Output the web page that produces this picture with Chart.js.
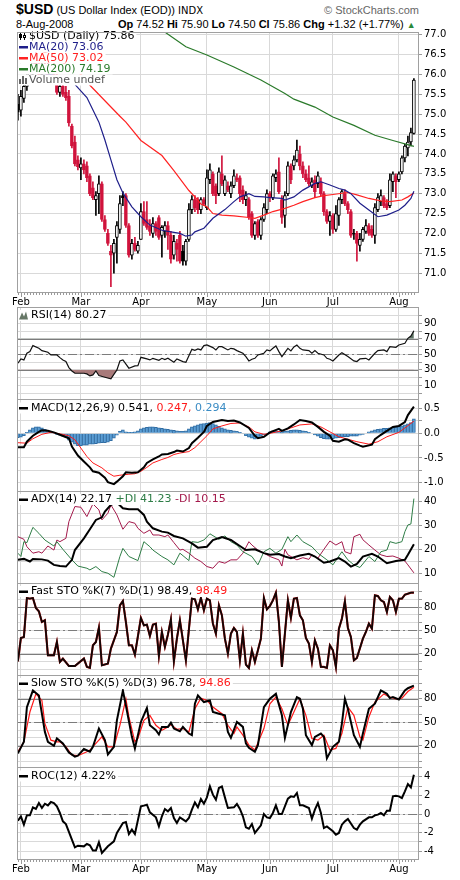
<!DOCTYPE html>
<html>
<head>
<meta charset="utf-8">
<script src="https://cdn.jsdelivr.net/npm/chart.js@4.4.0/dist/chart.umd.min.js"></script>
<style>
  body { margin: 0; background: #fff; }
  #wrap { position: relative; width: 460px; height: 880px; overflow: hidden; }
  #wrap canvas { position: absolute; left: 0; }
  .hd { position: absolute; white-space: nowrap; color: #000; }
</style>
</head>
<body>
<div id="wrap">
  <div class="hd" style="left:16px;top:1px;font:11px 'Liberation Sans',Arial"><b style="font-size:14px">$USD</b> (US Dollar Index (EOD)) <span style="font-family:'DejaVu Sans';font-size:10px">INDX</span></div>
  <div class="hd" style="right:41px;top:4px;font:11px 'Liberation Sans',Arial;color:#666">© StockCharts.com</div>
  <div class="hd" style="left:16px;top:18px;font:11px 'Liberation Sans',Arial">8-Aug-2008</div>
  <div class="hd" style="left:118px;top:18px;font:11px 'Liberation Sans',Arial"><b>Op</b> 74.52 <b>Hi</b> 75.90 <b>Lo</b> 74.50 <b>Cl</b> 75.86 <b>Chg</b> +1.32 (+1.77%) <span style="color:#2a8a3a;font-size:9px">&#9650;</span></div>
</div>
<script>
// trading days: day 0 = 1-Feb-2008, first bar is day -1 (31-Jan)
const monthLabels = ['Feb', 'Mar', 'Apr', 'May', 'Jun', 'Jul', 'Aug'];
const monthStart = [0, 20, 40, 62, 83, 104, 126];
const firstDay = -1;

// daily candles, day -1 .. 131
const dayOpen = [
  75.25, 75.10, 75.40, 75.70, 75.90, 76.10, 76.30, 76.20, 76.00, 76.25,
  76.10, 75.95, 76.10, 75.95, 75.55, 75.70, 75.55, 75.45, 74.70, 74.30,
  73.85, 73.65, 73.75, 73.70, 73.45, 73.15, 72.85, 73.00, 73.25, 72.35,
  72.00, 71.55, 71.50, 71.90, 72.10, 72.95, 72.95, 72.20, 71.45, 71.75,
  71.55, 71.85, 72.55, 72.35, 72.20, 72.00, 72.25, 72.40, 71.95, 72.05,
  72.20, 71.95, 71.45, 71.75, 71.95, 71.55, 71.30, 71.85, 72.60, 72.85,
  72.85, 72.60, 72.85, 72.65, 73.35, 73.50, 73.20, 73.00, 73.50, 73.00,
  73.20, 73.00, 73.20, 73.40, 73.40, 73.10, 72.85, 72.85, 72.50, 71.95,
  72.30, 71.95, 72.35, 72.60, 73.00, 72.90, 73.40, 73.55, 72.85, 72.45,
  73.00, 73.70, 73.70, 73.85, 74.00, 73.70, 73.50, 73.40, 73.20, 73.35,
  73.25, 73.30, 73.00, 72.55, 72.30, 72.45, 72.10, 72.45, 72.85, 73.00,
  72.75, 72.55, 72.00, 72.00, 71.70, 71.85, 72.05, 72.20, 72.10, 71.95,
  72.60, 72.80, 72.90, 72.75, 72.70, 73.30, 73.45, 73.35, 73.55, 73.90,
  74.15, 74.30, 74.52
];
const dayHigh = [
  75.50, 75.60, 75.80, 76.00, 76.20, 76.40, 76.55, 76.35, 76.30, 76.50,
  76.30, 76.20, 76.30, 76.05, 75.80, 75.80, 75.70, 75.60, 74.75, 74.45,
  73.95, 73.90, 73.85, 73.80, 73.50, 73.30, 73.05, 73.45, 73.30, 72.45,
  72.10, 71.70, 71.85, 72.30, 72.95, 73.05, 73.00, 72.25, 71.85, 71.90,
  71.80, 72.75, 72.80, 72.80, 72.35, 72.40, 72.30, 72.45, 72.20, 72.30,
  72.30, 72.05, 71.95, 71.85, 72.05, 71.70, 71.85, 72.75, 72.95, 72.95,
  72.90, 72.90, 72.90, 73.60, 73.75, 73.55, 73.25, 73.65, 73.95, 73.45,
  73.30, 73.30, 73.60, 73.50, 73.45, 73.20, 73.05, 72.90, 72.55, 72.30,
  72.35, 72.40, 72.75, 73.10, 73.05, 73.50, 73.60, 73.90, 72.95, 73.05,
  73.80, 73.75, 73.95, 74.35, 74.20, 73.80, 73.60, 73.70, 73.40, 73.45,
  73.55, 73.40, 73.05, 72.60, 72.55, 72.50, 72.70, 72.90, 73.10, 73.10,
  72.80, 72.60, 72.10, 72.05, 72.00, 72.15, 72.35, 72.25, 72.20, 72.75,
  73.00, 73.10, 72.95, 72.85, 73.50, 73.55, 73.50, 73.55, 73.95, 74.25,
  74.45, 74.65, 75.90
];
const dayLow = [
  74.85, 74.95, 75.30, 75.60, 75.85, 75.95, 76.10, 75.90, 75.90, 76.05,
  75.85, 75.85, 75.90, 75.50, 75.45, 75.45, 75.35, 74.70, 74.15, 73.70,
  73.60, 73.35, 73.50, 73.30, 72.95, 72.85, 72.45, 72.50, 72.30, 72.05,
  71.70, 70.66, 71.00, 71.25, 72.00, 72.70, 72.15, 71.40, 71.35, 71.55,
  71.50, 71.85, 72.20, 72.10, 71.95, 71.90, 71.95, 71.85, 71.40, 71.90,
  71.60, 71.25, 71.35, 71.30, 71.25, 71.20, 71.20, 71.80, 72.50, 72.55,
  72.50, 72.50, 72.70, 72.60, 73.25, 72.95, 72.75, 72.95, 73.20, 72.95,
  73.05, 72.90, 73.15, 73.30, 72.80, 72.75, 72.70, 72.35, 71.90, 71.85,
  71.90, 71.85, 72.30, 72.50, 72.80, 72.85, 73.30, 73.00, 72.25, 72.15,
  72.95, 73.25, 73.60, 73.80, 73.60, 73.40, 73.30, 73.20, 73.15, 72.90,
  73.15, 72.95, 72.45, 72.25, 71.95, 72.00, 72.05, 72.20, 72.75, 72.70,
  72.50, 71.90, 71.85, 71.30, 71.55, 71.80, 72.00, 71.95, 71.90, 71.75,
  72.55, 72.70, 72.65, 72.60, 72.65, 73.05, 72.90, 73.30, 73.50, 73.80,
  73.95, 74.20, 74.50
];
const dayClose = [
  75.05, 75.45, 75.70, 75.90, 76.10, 76.30, 76.20, 76.00, 76.25, 76.10,
  75.95, 76.10, 76.00, 75.55, 75.70, 75.50, 75.42, 74.78, 74.20, 73.75,
  73.68, 73.75, 73.60, 73.40, 73.00, 72.90, 72.95, 73.25, 72.35, 72.10,
  71.75, 71.45, 71.75, 72.20, 72.75, 72.90, 72.20, 71.45, 71.75, 71.60,
  71.70, 72.55, 72.25, 72.15, 72.05, 72.25, 72.05, 71.90, 72.15, 72.20,
  71.95, 71.35, 71.80, 71.60, 71.30, 71.30, 71.80, 72.60, 72.85, 72.65,
  72.60, 72.85, 72.75, 73.40, 73.60, 73.00, 72.95, 73.55, 73.25, 73.35,
  73.10, 73.20, 73.45, 73.35, 73.00, 72.85, 72.95, 72.40, 71.95, 72.25,
  71.95, 72.35, 72.65, 73.00, 72.90, 73.45, 73.50, 73.05, 72.40, 72.95,
  73.70, 73.35, 73.85, 74.10, 73.70, 73.50, 73.35, 73.25, 73.30, 73.05,
  73.45, 73.00, 72.55, 72.30, 72.45, 72.10, 72.50, 72.85, 73.05, 72.75,
  72.60, 71.95, 71.98, 71.75, 71.85, 72.10, 72.20, 72.00, 71.95, 72.65,
  72.90, 72.95, 72.70, 72.65, 73.35, 73.50, 73.30, 73.50, 73.90, 74.20,
  74.30, 74.54, 75.86
];

// moving averages [day, value]
const ma20 = [[-1,76.10],[10,76.00],[15,75.90],[18,75.75],[22,75.42],[26,74.80],[28,74.35],[30,73.85],[32,73.35],[34,73.02],[37,72.67],[40,72.42],[43,72.21],[47,72.08],[50,72.04],[53,72.00],[55,71.93],[57,71.96],[58,72.04],[61,72.13],[64,72.38],[68,72.60],[71,72.80],[73,72.92],[76,73.00],[78,72.93],[81,72.92],[83,72.90],[87,72.88],[88,72.84],[91,72.92],[94,73.09],[98,73.26],[100,73.30],[103,73.22],[106,73.13],[108,73.09],[110,73.00],[113,72.76],[116,72.59],[119,72.42],[122,72.46],[126,72.59],[128,72.71],[130,72.88],[131,73.06]];
const ma50 = [[-1,76.80],[10,76.50],[20,76.00],[23,75.73],[33,74.95],[35,74.80],[40,74.34],[47,73.96],[51,73.58],[56,73.08],[59,72.84],[60,72.74],[62,72.67],[64,72.50],[67,72.46],[71,72.44],[76,72.40],[78,72.38],[81,72.46],[84,72.55],[88,72.63],[91,72.71],[94,72.80],[98,72.90],[101,72.95],[104,72.98],[109,73.03],[112,72.97],[116,72.88],[120,72.82],[123,72.80],[127,72.84],[129,72.92],[131,73.02]];
const ma200 = [[40,77.35],[47,77.12],[55,76.70],[62,76.49],[71,76.19],[80,75.86],[88,75.52],[91,75.38],[98,75.18],[104,74.93],[111,74.72],[118,74.47],[124,74.34],[131,74.19]];

// RSI(14)
const rsi14 = [[-1,38.4],[0,44],[1,42.7],[2,51.3],[3,53.4],[4,61.2],[6,57.7],[7,54.7],[9,52.6],[10,49.1],[12,49.1],[13,45.7],[14,42.7],[15,40.6],[16,32.8],[17,28.5],[18,25.5],[21,25.5],[22,24.7],[23,22.1],[24,23.4],[25,28.5],[26,22.5],[28,20.4],[30,18.2],[32,29.8],[33,41.4],[34,42.7],[36,32],[38,35],[39,35.4],[40,46.1],[42,44],[43,42.7],[44,44.8],[46,42.3],[47,44.8],[48,43.1],[49,44.8],[51,39.7],[52,44],[54,40.6],[55,39.7],[57,56.4],[58,55.2],[59,56.9],[60,55.6],[61,61.2],[62,62],[64,58.6],[65,55.6],[66,59.9],[67,59.9],[69,55.6],[70,57.7],[71,56.9],[72,54.7],[74,51.3],[75,47],[76,41.4],[77,43.6],[78,44.8],[79,49.1],[81,51.3],[82,55.6],[83,54.3],[84,57.7],[85,60.7],[86,53.4],[87,47],[89,57.7],[90,54.3],[91,59.4],[92,62],[93,57.7],[94,55.6],[96,54.7],[97,51.3],[98,54.7],[99,51.3],[101,49.1],[102,44.8],[103,43.6],[104,41.4],[106,49.1],[107,52.1],[109,47],[111,41.4],[112,40.6],[113,44],[115,44.8],[116,42.7],[118,51.3],[119,54.7],[121,55.6],[122,53.4],[123,59.9],[125,59],[126,62],[128,64.2],[129,70.6],[130,73.6],[131,80.27]];

// MACD(12,26,9)
const macdLine = [[-1,-0.28],[1,-0.28],[2,-0.17],[4,-0.05],[6,0.03],[7,0.06],[9,0.05],[11,0.02],[13,-0.03],[16,-0.10],[17,-0.27],[19,-0.45],[21,-0.57],[23,-0.69],[24,-0.77],[26,-0.80],[28,-0.90],[29,-0.99],[31,-1.03],[32,-0.98],[34,-0.87],[35,-0.79],[37,-0.80],[39,-0.79],[41,-0.69],[42,-0.60],[44,-0.53],[46,-0.47],[47,-0.43],[49,-0.42],[51,-0.38],[52,-0.35],[54,-0.37],[56,-0.30],[57,-0.20],[59,-0.09],[61,0.03],[62,0.15],[64,0.23],[67,0.27],[69,0.25],[71,0.26],[73,0.22],[76,0.11],[78,-0.05],[79,-0.10],[81,-0.07],[83,0.02],[86,0.09],[87,0.05],[89,0.10],[91,0.18],[93,0.27],[95,0.25],[97,0.22],[99,0.13],[101,0.03],[103,-0.05],[104,-0.15],[106,-0.17],[108,-0.12],[109,-0.13],[111,-0.20],[113,-0.25],[114,-0.27],[117,-0.23],[118,-0.12],[120,-0.03],[122,0.05],[124,0.13],[126,0.15],[128,0.23],[129,0.37],[131,0.541]];
const macdSignal = [[-1,-0.19],[2,-0.20],[4,-0.11],[7,-0.02],[10,0.02],[13,-0.01],[16,-0.05],[18,-0.13],[20,-0.30],[22,-0.47],[24,-0.60],[27,-0.70],[29,-0.80],[31,-0.87],[33,-0.85],[36,-0.83],[38,-0.82],[40,-0.77],[42,-0.69],[44,-0.60],[47,-0.53],[49,-0.49],[51,-0.43],[53,-0.40],[56,-0.37],[58,-0.29],[60,-0.17],[62,-0.05],[64,0.09],[67,0.15],[70,0.20],[73,0.21],[76,0.13],[78,0.03],[81,-0.02],[83,0.00],[87,0.05],[90,0.11],[93,0.17],[97,0.19],[100,0.13],[103,0.03],[106,-0.07],[109,-0.12],[112,-0.17],[116,-0.22],[119,-0.17],[122,-0.07],[126,0.02],[128,0.11],[131,0.247]];
const macdHist = [
  -0.09, -0.08, -0.05, 0.02, 0.07, 0.11, 0.13, 0.13, 0.11, 0.08,
  0.05, 0.03, 0.01, -0.02, -0.04, -0.06, -0.08, -0.14, -0.18, -0.22,
  -0.25, -0.25, -0.24, -0.24, -0.22, -0.22, -0.21, -0.20, -0.19, -0.19,
  -0.18, -0.15, -0.10, -0.04, 0.04, 0.07, 0.03, 0.02, 0.02, 0.03,
  0.05, 0.09, 0.11, 0.12, 0.13, 0.13, 0.12, 0.11, 0.10, 0.09,
  0.08, 0.07, 0.06, 0.05, 0.04, 0.04, 0.05, 0.09, 0.13, 0.15,
  0.17, 0.19, 0.20, 0.21, 0.22, 0.20, 0.17, 0.14, 0.11, 0.09,
  0.07, 0.06, 0.05, 0.04, 0.02, -0.01, -0.05, -0.08, -0.10, -0.12,
  -0.10, -0.06, -0.03, 0.00, 0.03, 0.05, 0.05, 0.04, 0.03, 0.04,
  0.05, 0.06, 0.07, 0.07, 0.06, 0.05, 0.04, 0.02, 0.00, -0.03,
  -0.06, -0.09, -0.11, -0.12, -0.12, -0.11, -0.10, -0.09, -0.08, -0.07,
  -0.07, -0.06, -0.06, -0.06, -0.04, -0.02, 0.00, 0.03, 0.05, 0.07,
  0.08, 0.09, 0.10, 0.10, 0.11, 0.12, 0.13, 0.14, 0.15, 0.17,
  0.19, 0.22, 0.294
];

// ADX(14)
const adx14 = [[-1,15.6],[1,16],[3,14.9],[4,16],[7,15.8],[9,15.3],[11,13.5],[13,13],[15,12.8],[17,15.6],[18,19.7],[21,24.6],[23,28.4],[25,32.3],[27,33.4],[28,35.8],[30,38.6],[32,39.6],[34,37.2],[36,36.8],[39,36.8],[41,34.4],[42,31.6],[44,28.8],[47,27.4],[49,27],[51,25.6],[54,24.6],[57,22.5],[59,20.7],[62,21.1],[64,23.9],[67,25.1],[70,23.9],[73,21.4],[75,19.7],[78,20],[81,18.4],[83,17.7],[86,18],[88,17],[90,16.3],[93,17.4],[96,18.1],[98,17],[101,14.4],[103,14.9],[106,16.3],[108,14.9],[110,12.8],[112,13.9],[114,17],[117,18.1],[119,17],[122,14.2],[125,15.1],[128,15.6],[129,17.7],[131,22.17]];
const plusDI = [[-1,18.4],[0,17],[1,23.2],[2,22.8],[4,29.2],[6,26.7],[8,23.9],[11,21.4],[12,23.2],[14,20],[17,15.6],[19,13],[22,12.1],[23,11.4],[25,12.8],[27,10.7],[29,10],[31,8.3],[33,17],[34,20.4],[36,17],[39,15.3],[41,23.2],[43,21.1],[44,19.7],[47,17],[49,15.6],[51,13.5],[53,18.4],[56,15.3],[57,23.2],[59,22.9],[61,23.9],[63,26.5],[66,24.2],[68,25.6],[70,23.2],[72,21.8],[74,19],[77,17],[79,13.5],[81,19],[83,20.4],[85,18.4],[87,20],[89,25.3],[90,23.2],[92,26],[94,23.2],[97,21.1],[99,18.4],[102,15.6],[104,13.5],[107,19],[109,15.6],[111,13.5],[113,12.4],[116,17],[118,14.9],[120,19],[122,19.7],[123,23.2],[125,22.5],[127,23.2],[128,27.4],[129,30.2],[130,30.6],[131,41.23]];
const minusDI = [[-1,25.3],[1,24.2],[2,21.1],[4,18.4],[6,19],[7,18.4],[9,21.4],[11,19.7],[12,23.9],[13,23.2],[15,24.6],[16,31.6],[18,37.9],[20,37.6],[22,33.7],[24,39],[26,36.5],[27,32.3],[29,35.1],[30,38.6],[32,34.4],[34,28.4],[36,31.6],[38,30.9],[39,28.8],[41,26.7],[43,28.1],[44,26],[46,26],[48,25.3],[49,26],[51,22.8],[53,19.7],[54,20],[56,18.4],[58,16.3],[60,14.9],[62,12.8],[64,12.1],[66,14.9],[68,14.2],[70,15.6],[72,15.6],[74,18.4],[76,23.2],[77,21.8],[79,19.7],[81,18.4],[83,17],[86,15.6],[87,13],[88,20],[89,17.7],[92,15.6],[94,16.5],[96,15.8],[97,17.7],[99,16.3],[101,20],[103,23.5],[105,21.8],[107,23.2],[108,19],[110,18.1],[111,25.3],[113,26.3],[114,24],[116,21.8],[118,19.7],[120,17.7],[122,17],[124,17.2],[126,16.3],[128,15.1],[129,13.5],[131,10.15]];

// Fast STO %K(7) %D(1)
const fastK = [[-1,10.1],[0,40.1],[1,41.4],[2,91.6],[3,90.7],[4,91.6],[5,78.7],[6,74.4],[7,60.7],[8,62.9],[9,17.9],[11,17.9],[12,35],[13,9.3],[14,13.6],[16,4.1],[18,4.1],[21,13.6],[22,2.9],[23,1.6],[24,30.7],[25,35],[26,53.4],[27,5],[29,7.1],[30,26.4],[32,47.9],[33,82.1],[34,87.7],[35,60.7],[36,30.7],[37,30.7],[38,18.7],[40,65.9],[41,56.4],[42,57.3],[43,42.7],[44,57.3],[45,58.6],[46,17],[47,47.9],[48,28.6],[49,44.4],[50,64.1],[51,10.1],[52,39.3],[53,62.9],[55,11.4],[57,90.7],[58,89.9],[59,77],[60,91.6],[61,75.7],[62,90.7],[63,88.6],[64,58.6],[65,45.7],[66,82.1],[67,69.3],[68,39.3],[69,20],[70,45.7],[71,53],[72,47.9],[73,11.4],[74,45.7],[75,5.9],[76,1.6],[77,24.3],[78,9.3],[80,39.3],[81,91.6],[82,77],[83,81.3],[84,88.6],[85,98.4],[86,60.7],[87,2.9],[88,45.7],[89,88.6],[90,65.9],[91,90.7],[92,91.6],[93,69.3],[94,62.9],[95,40.1],[96,32.9],[97,9.3],[98,37.1],[99,26.4],[100,2.9],[101,2.9],[102,1.6],[103,30.7],[104,24.3],[105,2.9],[106,52.1],[107,65],[108,87.3],[109,53],[110,41.4],[111,11.4],[112,14.4],[114,39.3],[115,47.9],[116,58.6],[117,52.1],[118,95],[119,94.1],[120,88.6],[121,86.4],[122,73.6],[123,92.9],[124,88.6],[125,73.6],[126,90.7],[127,90.7],[128,95.9],[130,98.4],[131,98.49]];

// Slow STO %K(5) %D(3)
const slowK = [[-1,10.3],[1,25.1],[2,69.4],[4,90.6],[6,84.2],[7,61],[8,37.7],[9,25.1],[11,20],[12,29.3],[14,23],[16,11.5],[18,6.1],[19,7.3],[21,15.8],[23,12.4],[24,18.7],[26,42],[28,27.2],[29,9],[31,18.7],[32,52.5],[34,90.6],[35,71.5],[37,31.4],[38,16.6],[40,50.4],[42,68.2],[43,46.2],[45,39.9],[46,34.4],[47,44.1],[49,44.1],[50,49.6],[51,42],[53,38.6],[54,44.1],[56,35.6],[57,33.5],[58,73.7],[59,84.2],[61,75.8],[63,77.9],[64,63.1],[66,61],[68,58.9],[69,37.7],[70,30.1],[72,50.4],[74,44.1],[75,23],[76,17.5],[78,12.4],[79,20.8],[81,69.4],[83,80],[85,86.3],[87,58.9],[88,30.1],[90,63.1],[92,82.1],[93,80],[94,67.3],[95,33.5],[97,20.8],[98,31.4],[100,35.6],[101,31.4],[102,3.9],[104,18.7],[106,25.1],[107,48.3],[108,80],[109,67.3],[111,33.5],[113,18.7],[114,35.6],[116,67.3],[118,73.7],[120,90.6],[122,86.3],[123,80.8],[124,82.1],[126,79.2],[128,90.6],[129,93.5],[131,96.78]];
const slowD = [[-1,12.4],[1,25.1],[3,63.1],[5,86.3],[7,77.9],[8,48.3],[10,27.2],[12,25.1],[13,25.1],[15,18.7],[17,8.2],[19,7.3],[22,12.4],[23,14.5],[25,23],[27,31.4],[29,18.7],[31,18.7],[33,46.2],[35,80],[36,56.8],[38,25.1],[39,29.3],[41,52.5],[43,58.9],[45,46.2],[47,39.9],[49,44.1],[50,47],[52,41.1],[54,42],[56,37.7],[58,67.3],[60,80.8],[62,77.9],[64,69.4],[67,61],[69,46.2],[71,35.6],[72,44.1],[74,33.5],[76,20.8],[78,14.5],[81,42],[83,73.7],[85,82.1],[87,67.3],[89,46.2],[91,63.1],[93,80],[95,58.9],[97,29.3],[99,27.2],[101,33.5],[103,14.5],[105,16.6],[107,35.6],[109,69.4],[111,58.9],[113,31.4],[114,27.2],[116,56.8],[118,75.8],[121,86.3],[123,82.1],[125,80],[127,80.8],[129,89.3],[131,94.86]];

// ROC(12)
const roc12 = [[-1,-0.72],[0,-0.25],[1,-1.15],[2,-0.14],[3,-0.14],[4,0.72],[5,0.54],[6,1.18],[7,0.65],[8,1.11],[9,0.93],[10,1.29],[11,1.18],[12,0.82],[13,0.11],[14,-0.79],[15,-1.08],[17,-2.76],[18,-3.58],[19,-3.41],[21,-3.48],[22,-3.23],[23,-3.37],[24,-3.94],[25,-3.94],[26,-3.05],[27,-4.19],[29,-3.48],[31,-2.94],[32,-2.04],[34,-0.97],[35,-0.86],[36,-2.15],[37,-1.68],[38,-2.15],[40,0.82],[41,0.9],[42,1.0],[43,0.18],[45,-0.36],[46,-1.33],[47,-0.25],[48,0.54],[49,0.29],[50,0.65],[51,-0.43],[52,-0.97],[53,-0.36],[55,-0.79],[56,-0.43],[57,0.47],[58,1.25],[59,0.72],[60,1.61],[61,1.11],[62,1.79],[63,2.97],[64,2.08],[65,1.54],[66,2.8],[67,2.97],[68,1.79],[69,0.65],[71,0.72],[72,1.08],[73,0.54],[74,-0.25],[75,-1.43],[76,-1.58],[77,-1.08],[78,-2.04],[80,-1.22],[81,0],[82,-0.36],[83,-0.43],[84,0.11],[85,0.93],[86,0],[87,0],[89,1.65],[90,1.9],[91,1.83],[92,2.26],[93,0.93],[94,0.93],[96,0.65],[97,-0.5],[98,0.47],[99,1.18],[100,0.11],[101,-1.51],[102,-1.33],[104,-1.86],[105,-2.22],[106,-2.04],[107,-1.15],[108,-0.79],[109,-0.54],[111,-1.51],[112,-1.68],[113,-1.15],[114,-0.79],[116,-0.36],[117,-0.36],[118,-0.14],[119,-0.07],[120,0.11],[121,-0.14],[122,0.36],[123,0.36],[124,1.9],[125,1.97],[126,1.9],[127,1.72],[128,2.44],[129,3.23],[130,2.87],[131,4.22]];

// axis ticks
const priceTicks = [71.0, 71.5, 72.0, 72.5, 73.0, 73.5, 74.0, 74.5, 75.0, 75.5, 76.0, 76.5, 77.0];
const pctGrid = [0, 10, 20, 30, 40, 50, 60, 70, 80, 90, 100];
const rsiLabels = [10, 30, 50, 70, 90];
const stoLabels = [20, 50, 80];
const macdGrid = [-1, -0.75, -0.5, -0.25, 0, 0.25, 0.5];
const macdLabels = [-1, -0.5, 0, 0.5];
const adxGrid = [10, 15, 20, 25, 30, 35, 40];
const adxLabels = [10, 20, 30, 40];
const rocGrid = [-4, -3, -2, -1, 0, 1, 2, 3, 4, 5];
const rocLabels = [-4, -2, 0, 2, 4];

const FONT = '"DejaVu Sans", Verdana, sans-serif';
const RED = '#d0143c';
const MA20C = '#1f1f8a', MA50C = '#ff2222', MA200C = '#2a7a2a';
const GRID = '#d9d9d9';

const days = dayClose.map((c, i) => firstDay + i);

function pts(arr) {
  return arr.map(p => ({ x: p[0], y: p[1] }));
}

function line(arr, color, width) {
  return { type: 'line', data: pts(arr), borderColor: color, borderWidth: width,
           pointRadius: 0, tension: 0, fill: false };
}

function drawIcon(ctx, icon, x, yc) {
  if (icon[0] === 'dash') {
    ctx.fillStyle = icon[1];
    ctx.fillRect(x, yc - 1, 9, 2.5);
  } else if (icon[0] === 'candle') {
    ctx.fillStyle = '#000';
    ctx.fillRect(x + 1, yc - 4, 1, 8);
    ctx.fillRect(x, yc - 2, 3, 4);
    ctx.fillRect(x + 5, yc - 3, 1, 7);
    ctx.strokeStyle = '#000'; ctx.lineWidth = 1;
    ctx.fillStyle = '#fff';
    ctx.fillRect(x + 4, yc - 1, 3, 3);
    ctx.strokeRect(x + 4.5, yc - 0.5, 2, 2);
  } else if (icon[0] === 'vol') {
    ctx.fillStyle = '#666';
    ctx.fillRect(x, yc - 1, 2, 5);
    ctx.fillRect(x + 3, yc - 4, 2, 8);
    ctx.fillRect(x + 6, yc - 2, 2, 6);
  } else if (icon[0] === 'mount') {
    ctx.fillStyle = '#667766';
    ctx.beginPath();
    ctx.moveTo(x, yc + 4); ctx.lineTo(x + 3, yc - 3); ctx.lineTo(x + 5, yc + 1);
    ctx.lineTo(x + 7, yc - 4); ctx.lineTo(x + 9, yc + 4); ctx.closePath(); ctx.fill();
  }
}

// borders, reference lines, day ticks and text legends of each panel
const deco = {
  id: 'deco',
  beforeDatasetsDraw(chart, args, o) {
    const { ctx, chartArea: a } = chart;
    const y = chart.scales.y;
    (o.refs || []).forEach(r => {
      const py = Math.round(y.getPixelForValue(r[0])) + 0.5;
      ctx.save();
      ctx.strokeStyle = '#7c7c7c';
      ctx.lineWidth = 1;
      ctx.setLineDash(r[1] ? [9, 3, 2, 3] : []);
      ctx.beginPath(); ctx.moveTo(a.left, py); ctx.lineTo(a.right, py); ctx.stroke();
      ctx.restore();
    });
  },
  afterDatasetsDraw(chart, args, o) {
    const { ctx, chartArea: a } = chart;
    const x = chart.scales.x;
    ctx.save();
    ctx.font = '11px ' + FONT;
    ctx.textBaseline = 'middle';
    (o.legend || []).forEach((row, i) => {
      const yc = a.top + o.legendTop + i * 11;
      const tx = a.left + (o.textOff || 14);
      let w = 0;
      row.parts.forEach(p => { w += ctx.measureText(p[0]).width; });
      ctx.fillStyle = '#fff';
      ctx.fillRect(a.left + 1, yc - 5.5, tx + w + 2 - a.left - 1, 11);
      drawIcon(ctx, row.icon, a.left + 2, yc);
      let px = tx;
      row.parts.forEach(p => {
        ctx.fillStyle = p[1];
        ctx.fillText(p[0], px, yc);
        px += ctx.measureText(p[0]).width;
      });
    });
    ctx.strokeStyle = '#a0a0a0';
    ctx.lineWidth = 1;
    ctx.strokeRect(a.left + 0.5, a.top + 0.5, a.right - a.left - 1, a.bottom - a.top - 1);
    if (o.dayTicks) {
      ctx.fillStyle = '#999';
      days.forEach(d => {
        const px = Math.round(x.getPixelForValue(d));
        ctx.fillRect(px, a.bottom, 1, 2);
      });
      monthStart.forEach(d => {
        const px = Math.round(x.getPixelForValue(d));
        ctx.fillRect(px, a.bottom, 1, 4);
      });
    }
    ctx.restore();
  }
};

function xAxis(labelH) {
  return {
    type: 'linear', min: -1.3, max: 132.7, offset: false,
    afterBuildTicks: s => { s.ticks = monthStart.map(v => ({ value: v })); },
    afterFit: s => { s.height = labelH; s.paddingLeft = 0; s.paddingRight = 0; },
    grid: { color: GRID, drawTicks: false, offset: false },
    border: { display: false },
    ticks: {
      display: labelH > 0, autoSkip: false, maxRotation: 0, padding: 3,
      color: '#000', font: { family: FONT, size: 10 },
      callback: v => monthLabels[monthStart.indexOf(v)]
    }
  };
}

function yAxis(min, max, grid, labels, fmt) {
  return {
    position: 'right', min: min, max: max,
    afterBuildTicks: s => { s.ticks = grid.map(v => ({ value: v })); },
    afterFit: s => { s.width = 41; s.paddingTop = 0; s.paddingBottom = 0; },
    grid: { color: GRID, tickLength: 3, tickColor: '#999' },
    border: { display: false },
    ticks: {
      autoSkip: false, padding: 2, color: '#000', font: { family: FONT, size: 10 },
      callback: v => labels.indexOf(v) >= 0 ? fmt(v) : ''
    }
  };
}

function panel(top, height, padTop, labelH, datasets, y, deco_opts) {
  const cv = document.createElement('canvas');
  cv.width = 460; cv.height = height;
  cv.style.top = top + 'px';
  document.getElementById('wrap').appendChild(cv);
  return new Chart(cv, {
    type: 'line',
    data: { datasets: datasets },
    options: {
      responsive: false, animation: false, events: [],
      layout: { padding: { left: 17, top: padTop, right: 0, bottom: 0 } },
      plugins: { legend: { display: false }, tooltip: { enabled: false }, deco: deco_opts },
      scales: { x: xAxis(labelH), y: y }
    },
    plugins: [deco]
  });
}

// ---- price panel ----
const candleColor = dayClose.map((c, i) => (i === 0 || c >= dayClose[i - 1]) ? '#000' : RED);
const bodyFill = dayClose.map((c, i) => c < dayOpen[i] ? candleColor[i] : '#fff');

panel(0, 307, 32, 14, [
  line(ma20, MA20C, 1.2),
  line(ma50, MA50C, 1.2),
  line(ma200, MA200C, 1.2),
  { type: 'bar', grouped: false, barThickness: 3, borderWidth: 1, borderSkipped: false,
    data: days.map((d, i) => ({ x: d, y: [dayOpen[i], dayClose[i]] })),
    backgroundColor: bodyFill, borderColor: candleColor },
  { type: 'bar', grouped: false, barThickness: 1, borderWidth: 0,
    data: days.map((d, i) => ({ x: d, y: [dayLow[i], dayHigh[i]] })),
    backgroundColor: candleColor }
], yAxis(70.5, 77.07, priceTicks, priceTicks, v => v.toFixed(1)), {
  legendTop: 4, textOff: 12, dayTicks: true,
  legend: [
    { icon: ['candle'], parts: [['$USD (Daily) 75.86', '#000']] },
    { icon: ['dash', MA20C], parts: [['MA(20) 73.06', MA20C]] },
    { icon: ['dash', MA50C], parts: [['MA(50) 73.02', MA50C]] },
    { icon: ['dash', MA200C], parts: [['MA(200) 74.19', MA200C]] },
    { icon: ['vol'], parts: [['Volume undef', '#555']] }
  ]
});

// ---- RSI ----
panel(307, 93, 0, 0, [
  Object.assign(line(rsi14, '#111', 1.2), { fill: { target: { value: 30 }, above: 'rgba(0,0,0,0)', below: '#a87a7a' } }),
  Object.assign(line(rsi14, 'rgba(0,0,0,0)', 0), { fill: { target: { value: 70 }, above: '#5f7566', below: 'rgba(0,0,0,0)' } })
], yAxis(-9, 111, pctGrid, rsiLabels, v => String(v)), {
  legendTop: 8.5, refs: [[30], [70], [50, true]],
  legend: [{ icon: ['mount'], parts: [['RSI(14) 80.27', '#000']] }]
});

// ---- MACD ----
panel(399, 93, 0, 0, [
  line(macdLine, '#000', 2),
  line(macdSignal, '#ff1a1a', 1),
  { type: 'bar', grouped: false, barThickness: 3, borderWidth: 1,
    data: days.map((d, i) => ({ x: d, y: macdHist[i] })),
    backgroundColor: '#5b9fd6', borderColor: '#2f6ca3' }
], yAxis(-1.19, 0.696, macdGrid, macdLabels, v => v.toFixed(1)), {
  legendTop: 9,
  legend: [{ icon: ['dash', '#000'], parts: [['MACD(12,26,9) 0.541,', '#000'], [' 0.247,', '#ff1a1a'], [' 0.294', '#3b8cc4']] }]
});

// ---- ADX ----
panel(491, 93, 0, 0, [
  line(adx14, '#000', 2),
  line(plusDI, '#2e7d46', 1),
  line(minusDI, '#a3194b', 1)
], yAxis(5.5, 44.4, adxGrid, adxLabels, v => String(v)), {
  legendTop: 8.5,
  legend: [{ icon: ['dash', '#000'], parts: [['ADX(14) 22.17', '#000'], [' +DI 41.23', '#2e7d46'], [' -DI 10.15', '#a3194b']] }]
});

// ---- Fast STO ----
panel(583, 93, 0, 0, [
  line(fastK, '#120606', 1.8),
  line(fastK, '#c81a1a', 2.1)
], yAxis(-8.8, 110.9, pctGrid, stoLabels, v => String(v)), {
  legendTop: 8.5, refs: [[20], [80], [50, true]],
  legend: [{ icon: ['dash', '#000'], parts: [['Fast STO %K(7) %D(1) 98.49,', '#000'], [' 98.49', '#ff1a1a']] }]
});

// ---- Slow STO ----
panel(675, 93, 0, 0, [
  line(slowK, '#000', 2),
  line(slowD, '#ff1a1a', 1.2)
], yAxis(-8.4, 110.4, pctGrid, stoLabels, v => String(v)), {
  legendTop: 8.5, refs: [[20], [80], [50, true]],
  legend: [{ icon: ['dash', '#000'], parts: [['Slow STO %K(5) %D(3) 96.78,', '#000'], [' 94.86', '#ff1a1a']] }]
});

// ---- ROC ----
panel(767, 113, 0, 20, [
  line(roc12, '#000', 2)
], yAxis(-4.95, 5.06, rocGrid, rocLabels, v => String(v)), {
  legendTop: 9, refs: [[0, true]], dayTicks: true,
  legend: [{ icon: ['dash', '#000'], parts: [['ROC(12) 4.22%', '#000']] }]
});
</script>
</body>
</html>
